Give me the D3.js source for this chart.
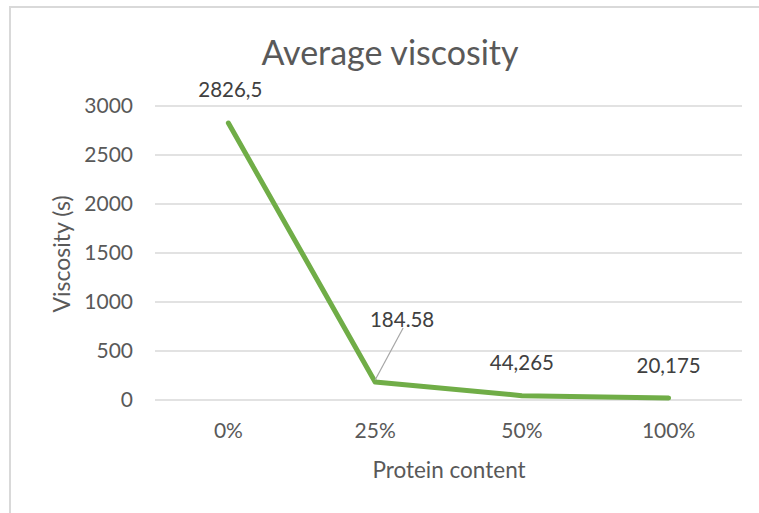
<!DOCTYPE html>
<html><head><meta charset="utf-8">
<script src="https://cdn.jsdelivr.net/npm/d3@7"></script>
<style>body{margin:0;background:#fff}svg{display:block}</style>
</head><body>
<script>
const categories = ["0%", "25%", "50%", "100%"];
const values = [2826.5, 184.58, 44.265, 20.175];
const valueLabels = ["2826,5", "184.58", "44,265", "20,175"];
const yTicks = [0, 500, 1000, 1500, 2000, 2500, 3000];

(function () {
const W = 759, H = 513;
const svg = d3.select("body").append("svg").attr("width", W).attr("height", H);
const font = "Lato, 'Open Sans', sans-serif";
const grey = "#595959";

// chart border
svg.append("rect").attr("x", 10).attr("y", 7).attr("width", 760).attr("height", 520)
  .attr("fill", "none").attr("stroke", "#d9d9d9").attr("stroke-width", 2);

const mLeft = 155, mRight = 742, mTop = 106, mBottom = 400;
const x = d3.scaleBand().domain(categories).range([mLeft, mRight]);
const y = d3.scaleLinear().domain([0, 3000]).range([mBottom, mTop]);

// gridlines
svg.append("g").selectAll("line").data(yTicks).join("line")
  .attr("x1", mLeft).attr("x2", mRight)
  .attr("y1", d => y(d)).attr("y2", d => y(d))
  .attr("stroke", "#d9d9d9").attr("stroke-width", 1.3);

// y axis
const yAxis = svg.append("g").attr("transform", `translate(${mLeft},0)`)
  .call(d3.axisLeft(y).tickValues(yTicks).tickSize(0).tickPadding(22).tickFormat(d3.format("d")));
yAxis.select(".domain").remove();
yAxis.selectAll("text").attr("font-family", font).attr("font-size", 21).attr("fill", grey);

// x axis
const xAxis = svg.append("g").attr("transform", `translate(0,438)`)
  .call(d3.axisBottom(x).tickSize(0).tickPadding(0));
xAxis.select(".domain").remove();
xAxis.selectAll("text").attr("font-family", font).attr("font-size", 21).attr("fill", grey).attr("dy", "0");

// title
svg.append("text").attr("x", 390).attr("y", 65).attr("text-anchor", "middle")
  .attr("font-family", font).attr("font-size", 34).attr("font-weight", 400).attr("fill", grey)
  .text("Average viscosity");

// axis titles
svg.append("text").attr("x", 449).attr("y", 478).attr("text-anchor", "middle")
  .attr("font-family", font).attr("font-size", 22.5).attr("fill", grey).text("Protein content");
svg.append("text").attr("transform", `translate(70,254) rotate(-90)`)
  .attr("text-anchor", "middle")
  .attr("font-family", font).attr("font-size", 23).attr("fill", grey).text("Viscosity (s)");

// line
const cx = d => x(d) + x.bandwidth() / 2;
const line = d3.line().x((d, i) => cx(categories[i])).y(d => y(d));
svg.append("path").datum(values).attr("d", line).attr("fill", "none")
  .attr("stroke", "#70ad47").attr("stroke-width", 5).attr("stroke-linejoin", "round").attr("stroke-linecap", "round");

// data labels
const labelPos = [
  {dx: 2, dy: -26},
  {dx: 27, dy: -55},
  {dx: 0, dy: -26},
  {dx: 0, dy: -25}
];
// leader line for 25%
svg.append("line")
  .attr("x1", cx(categories[1])).attr("y1", y(values[1]) - 2)
  .attr("x2", cx(categories[1]) + 28).attr("y2", y(values[1]) - 54)
  .attr("stroke", "#a6a6a6").attr("stroke-width", 1.2);
svg.append("g").selectAll("text").data(values).join("text")
  .attr("x", (d, i) => cx(categories[i]) + labelPos[i].dx)
  .attr("y", (d, i) => y(d) + labelPos[i].dy)
  .attr("text-anchor", "middle")
  .attr("font-family", font).attr("font-size", 20.5).attr("fill", "#404040")
  .text((d, i) => valueLabels[i]);
})();
</script>
</body></html>
